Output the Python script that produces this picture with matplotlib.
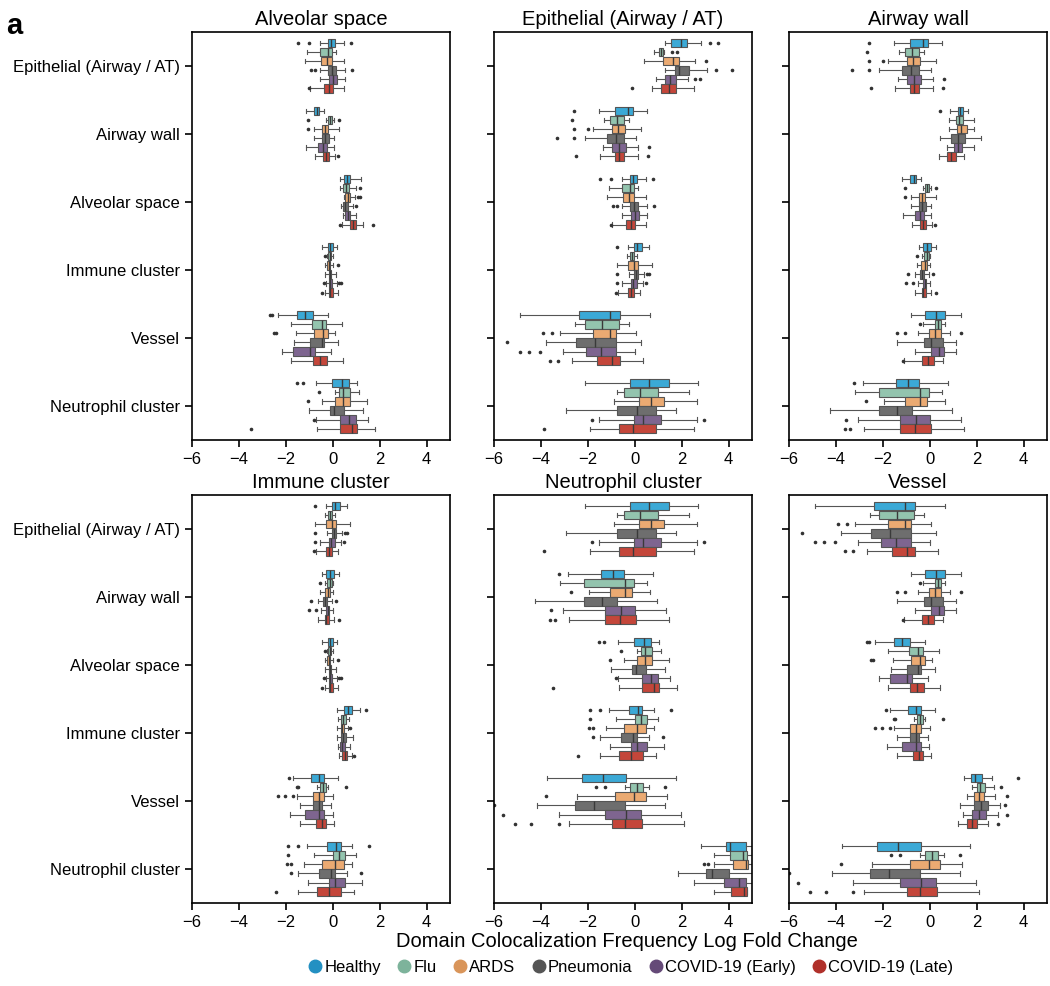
import numpy as np
import matplotlib
matplotlib.use("Agg")
import matplotlib.pyplot as plt
from matplotlib.lines import Line2D

plt.rcParams['font.family'] = ['Liberation Sans', 'DejaVu Sans']

groups = ["Healthy", "Flu", "ARDS", "Pneumonia", "COVID-19 (Early)", "COVID-19 (Late)"]
box_colors = ["#3BA9D6", "#93C4AE", "#EBAA72", "#6E6E6E", "#7E6590", "#C4463A"]
dot_colors = ["#2390C2", "#7DB39B", "#D9955A", "#555555", "#654A78", "#B0302A"]

panels = ["Alveolar space", "Epithelial (Airway / AT)", "Airway wall",
          "Immune cluster", "Neutrophil cluster", "Vessel"]
rows = ["Epithelial (Airway / AT)", "Airway wall", "Alveolar space",
        "Immune cluster", "Vessel", "Neutrophil cluster"]
xticks = [-6, -4, -2, 0, 2, 4]

# one box per group: whisker low, q1, median, q3, whisker high, outliers
ep_ep = [(1.31, 1.54, 1.97, 2.24, 2.81, [3.2, 3.53]),
         (0.81, 1.04, 1.13, 1.21, 1.24, [1.57, 1.82]),
         (0.38, 1.21, 1.61, 1.89, 2.56, [3.03]),
         (1.31, 1.71, 1.89, 2.31, 3.06, [3.45, 4.13]),
         (0.9, 1.28, 1.52, 1.74, 2.28, [2.56, 2.78]),
         (0.74, 1.14, 1.47, 1.78, 2.52, [-0.1])]
ep_aw = [(-1.52, -0.85, -0.3, -0.09, 0.54, [-2.57]),
         (-1.31, -1.07, -0.75, -0.45, -0.23, [-2.68]),
         (-1.78, -0.97, -0.71, -0.4, 0.27, [-2.6, -1.99]),
         (-2.14, -1.18, -0.8, -0.46, 0.05, [-3.3, -2.6]),
         (-1.36, -0.97, -0.69, -0.36, 0.12, [0.6]),
         (-1.5, -0.85, -0.67, -0.46, 0.12, [-2.49, 0.57])]
ep_as = [(-0.55, -0.22, -0.07, 0.1, 0.5, [-1.5, -1.0, 0.76]),
         (-1.08, -0.56, -0.2, -0.04, 0.15, []),
         (-1.17, -0.5, -0.25, -0.02, 0.47, []),
         (-0.54, -0.19, -0.04, 0.14, 0.52, [-0.93, -0.76, 0.81]),
         (-0.55, -0.18, 0.0, 0.18, 0.52, []),
         (-0.95, -0.38, -0.18, 0.0, 0.49, [-1.03])]
ep_ic = [(-0.27, -0.02, 0.1, 0.32, 0.6, [-0.75]),
         (-0.33, -0.22, -0.13, -0.03, 0.1, []),
         (-0.74, -0.28, -0.05, 0.12, 0.72, []),
         (-0.25, -0.04, 0.05, 0.13, 0.38, [-0.76, 0.52, 0.6]),
         (-0.56, -0.18, -0.07, 0.08, 0.35, [-0.74, 0.5]),
         (-0.7, -0.29, -0.18, -0.05, 0.23, [-0.78])]
ep_ve = [(-4.91, -2.39, -1.07, -0.61, 0.64, []),
         (-2.54, -2.14, -1.4, -0.67, -0.24, []),
         (-3.18, -1.78, -1.04, -0.81, 0.07, [-3.92, -3.52]),
         (-3.77, -2.52, -1.68, -0.81, 0.28, [-5.44]),
         (-3.06, -2.07, -1.42, -0.81, 0.03, [-4.91, -4.49, -4.03]),
         (-2.68, -1.61, -0.97, -0.61, 0.36, [-3.6, -3.28])]
ep_nc = [(-2.11, -0.19, 0.6, 1.45, 2.71, []),
         (-0.74, -0.45, 0.21, 1.0, 2.31, []),
         (-0.88, 0.17, 0.71, 1.25, 2.66, []),
         (-2.92, -0.75, 0.11, 0.9, 1.74, []),
         (-1.52, -0.04, 0.36, 1.11, 2.66, [-1.82, 2.96]),
         (-1.89, -0.67, -0.07, 0.9, 2.52, [-3.87])]
aw_aw = [(0.88, 1.21, 1.3, 1.42, 1.63, [0.43]),
         (0.81, 1.11, 1.25, 1.42, 1.89, []),
         (0.82, 1.16, 1.32, 1.59, 1.87, []),
         (0.45, 0.92, 1.21, 1.52, 2.17, []),
         (0.75, 1.02, 1.21, 1.39, 1.89, []),
         (0.38, 0.74, 0.92, 1.13, 1.45, [])]
aw_as = [(-1.16, -0.82, -0.69, -0.57, -0.36, []),
         (-0.27, -0.22, -0.13, -0.05, 0.06, [-1.05, 0.27]),
         (-0.8, -0.46, -0.32, -0.22, 0.26, [-1.05]),
         (-0.81, -0.45, -0.32, -0.14, 0.06, []),
         (-1.15, -0.62, -0.42, -0.23, 0.04, []),
         (-0.74, -0.4, -0.3, -0.17, 0.1, [0.21])]
aw_ic = [(-0.45, -0.27, -0.11, 0.05, 0.28, []),
         (-0.31, -0.23, -0.13, -0.04, 0.03, [-0.55]),
         (-0.56, -0.35, -0.22, -0.1, 0.0, []),
         (-0.64, -0.42, -0.32, -0.24, -0.04, [-0.93, 0.12]),
         (-0.5, -0.3, -0.22, -0.15, 0.01, [-1.0, -0.7]),
         (-0.64, -0.33, -0.27, -0.16, 0.07, [0.25])]
aw_ve = [(-0.81, -0.18, 0.28, 0.67, 1.32, []),
         (-0.28, 0.21, 0.35, 0.5, 0.67, [-0.43]),
         (-0.5, -0.03, 0.24, 0.47, 0.85, [-1.38, -1.06, 1.32]),
         (-1.39, -0.24, 0.07, 0.57, 1.13, []),
         (-0.64, 0.07, 0.38, 0.61, 1.13, []),
         (-1.09, -0.33, -0.07, 0.17, 0.57, [-1.13])]
aw_nc = [(-2.84, -1.42, -0.91, -0.44, 0.77, [-3.21]),
         (-3.19, -2.16, -0.42, -0.02, 0.52, []),
         (-1.96, -1.06, -0.43, -0.11, 0.67, [-2.7]),
         (-4.26, -2.16, -1.39, -0.74, 0.96, []),
         (-3.05, -1.28, -0.59, 0.0, 1.32, [-3.57]),
         (-2.8, -1.28, -0.64, 0.05, 1.45, [-3.62, -3.38])]
as_as = [(0.31, 0.48, 0.61, 0.74, 1.2, []),
         (0.31, 0.44, 0.57, 0.68, 0.97, [1.15]),
         (0.47, 0.54, 0.64, 0.74, 0.94, [1.08, 1.17]),
         (0.34, 0.44, 0.54, 0.66, 0.87, [1.01]),
         (0.44, 0.51, 0.63, 0.75, 1.01, []),
         (0.4, 0.75, 0.87, 1.01, 1.3, [0.3, 1.72])]
as_ic = [(-0.48, -0.22, -0.11, 0.0, 0.16, []),
         (-0.26, -0.2, -0.13, -0.06, -0.01, [-0.33]),
         (-0.31, -0.26, -0.18, -0.11, 0.0, [0.23]),
         (-0.33, -0.18, -0.12, -0.06, 0.12, []),
         (-0.27, -0.16, -0.1, -0.02, 0.16, [-0.38, 0.25, 0.34]),
         (-0.35, -0.16, -0.1, 0.0, 0.21, [-0.44])]
as_ve = [(-2.35, -1.53, -1.18, -0.85, -0.22, [-2.66, -2.59]),
         (-1.77, -0.88, -0.48, -0.3, 0.4, []),
         (-1.55, -0.81, -0.41, -0.2, 0.11, [-2.5, -2.43]),
         (-1.67, -0.95, -0.48, -0.37, 0.23, []),
         (-2.17, -1.7, -0.98, -0.74, -0.09, []),
         (-1.77, -0.84, -0.53, -0.23, 0.44, [])]
as_nc = [(-0.73, -0.04, 0.39, 0.69, 1.04, [-1.51, -1.29]),
         (0.11, 0.27, 0.44, 0.73, 1.11, [-0.58]),
         (-0.44, 0.11, 0.44, 0.73, 1.47, [-1.05]),
         (-1.01, -0.11, 0.06, 0.47, 1.27, []),
         (-0.7, 0.3, 0.7, 0.98, 1.51, [-0.8]),
         (-0.66, 0.3, 0.8, 1.05, 1.82, [-3.5])]
ic_ic = [(0.2, 0.47, 0.63, 0.83, 1.15, [1.4]),
         (0.23, 0.37, 0.44, 0.58, 0.7, []),
         (0.16, 0.33, 0.4, 0.48, 0.66, [0.73]),
         (0.16, 0.33, 0.44, 0.58, 0.87, []),
         (0.23, 0.3, 0.4, 0.51, 0.75, []),
         (0.26, 0.41, 0.51, 0.61, 0.83, [0.91])]
ic_ve = [(-1.69, -0.91, -0.58, -0.37, 0.23, [-1.87]),
         (-0.67, -0.53, -0.41, -0.27, -0.2, [-1.52, -1.47, 0.58]),
         (-1.52, -0.84, -0.58, -0.37, 0.01, [-2.34, -2.05, -1.69]),
         (-1.41, -0.84, -0.6, -0.44, -0.06, []),
         (-1.81, -1.2, -0.58, -0.37, -0.01, []),
         (-1.38, -0.73, -0.44, -0.27, 0.04, [])]
ic_nc = [(-1.08, -0.24, 0.12, 0.33, 0.83, [-1.91, -1.48, 1.54]),
         (-0.8, -0.01, 0.27, 0.54, 0.98, [-1.91]),
         (-1.23, -0.44, 0.09, 0.47, 0.8, [-1.94, -1.79]),
         (-1.48, -0.58, -0.09, 0.11, 0.61, [-1.77, 1.2]),
         (-1.05, -0.17, 0.09, 0.51, 1.23, []),
         (-1.48, -0.66, -0.17, 0.34, 0.91, [-2.41])]
ve_ve = [(1.45, 1.75, 1.95, 2.25, 2.65, [3.75]),
         (1.8, 2.0, 2.15, 2.35, 2.75, [3.05]),
         (1.6, 1.9, 2.1, 2.3, 2.8, [3.3]),
         (1.3, 1.9, 2.2, 2.5, 3.0, [3.2]),
         (1.4, 1.8, 2.1, 2.4, 2.9, [3.3]),
         (1.2, 1.6, 1.8, 2.0, 2.5, [2.9])]
ve_nc = [(-3.73, -2.25, -1.35, -0.36, 1.74, []),
         (-0.4, -0.21, 0.11, 0.36, 0.61, [-1.67, -1.28, 1.31]),
         (-2.45, -0.85, -0.04, 0.46, 1.38, [-3.77]),
         (-4.17, -2.56, -1.74, -0.4, 1.28, [-5.98]),
         (-3.25, -1.28, -0.38, 0.28, 1.97, [-5.6]),
         (-2.81, -0.97, -0.4, 0.31, 2.11, [-5.1, -4.44, -3.25])]
nc_nc = [(2.81, 3.87, 4.06, 4.73, 5.1, []),
         (3.38, 4.06, 4.63, 4.77, 5.1, []),
         (3.38, 4.2, 4.75, 4.85, 5.0, [2.95, 3.13]),
         (1.85, 3.02, 3.3, 4.02, 5.1, []),
         (2.52, 3.8, 4.46, 4.73, 5.1, []),
         (3.39, 4.1, 4.67, 4.77, 4.8, [])]

EP, AW, AS, IC, VE, NC = rows[0], rows[1], rows[2], rows[3], rows[4], rows[5]
pairs = {(EP, EP): ep_ep, (EP, AW): ep_aw, (EP, AS): ep_as, (EP, IC): ep_ic,
         (EP, VE): ep_ve, (EP, NC): ep_nc, (AW, AW): aw_aw, (AW, AS): aw_as,
         (AW, IC): aw_ic, (AW, VE): aw_ve, (AW, NC): aw_nc, (AS, AS): as_as,
         (AS, IC): as_ic, (AS, VE): as_ve, (AS, NC): as_nc, (IC, IC): ic_ic,
         (IC, VE): ic_ve, (IC, NC): ic_nc, (VE, VE): ve_ve, (VE, NC): ve_nc,
         (NC, NC): nc_nc}


def lookup(a, b):
    if (a, b) in pairs:
        return pairs[(a, b)]
    return pairs[(b, a)]


edge = "#555555"
fig = plt.figure(figsize=(10.5, 9.86), dpi=100)
lefts = [0.1829, 0.4705, 0.7514]
bottoms = [0.5538, 0.0842]
w, h = 0.2457, 0.414
step = 0.8 / 6

for k, dom in enumerate(panels):
    r, c = divmod(k, 3)
    ax = fig.add_axes([lefts[c], bottoms[r], w, h])
    for j in range(len(groups)):
        stats = []
        for row in rows:
            lo, q1, med, q3, hi, out = lookup(dom, row)[j]
            stats.append(dict(whislo=lo, q1=q1, med=med, q3=q3, whishi=hi, fliers=out))
        pos = np.arange(len(rows)) + (j - 2.5) * step
        ax.bxp(stats, positions=pos, widths=step * 0.93, orientation='horizontal',
               patch_artist=True, showfliers=True,
               boxprops=dict(facecolor=box_colors[j], edgecolor=edge, linewidth=0.8),
               medianprops=dict(color="#3a3a3a", linewidth=1.0),
               whiskerprops=dict(color=edge, linewidth=0.8),
               capprops=dict(color=edge, linewidth=0.8),
               flierprops=dict(marker='o', markersize=1.6, markerfacecolor='#333333',
                               markeredgecolor='#333333', linestyle='none'))
    ax.set_xlim(-6, 5)
    ax.set_ylim(5.5, -0.5)
    ax.set_yticks(range(len(rows)))
    ax.set_yticklabels(rows if c == 0 else [])
    ax.set_xticks(xticks)
    ax.tick_params(length=5, width=1.2, labelsize=12, color='black')
    for s in ax.spines.values():
        s.set_linewidth(1.2)
    ax.set_title(dom, fontsize=14.5, pad=5)

fig.text(0.597, 0.045, "Domain Colocalization Frequency Log Fold Change",
         ha='center', va='center', fontsize=14.5)

handles = [Line2D([], [], marker='o', linestyle='none', markersize=9,
                  markerfacecolor=col, markeredgecolor=col) for col in dot_colors]
fig.legend(handles, groups, loc='center', bbox_to_anchor=(0.6, 0.019), ncol=6,
           frameon=False, handletextpad=0.05, columnspacing=0.9, fontsize=12,
           handlelength=1.0)

fig.text(0.006, 0.988, "a", fontweight='bold', fontsize=21, va='top', ha='left')

fig.savefig("out.png", dpi=100)
